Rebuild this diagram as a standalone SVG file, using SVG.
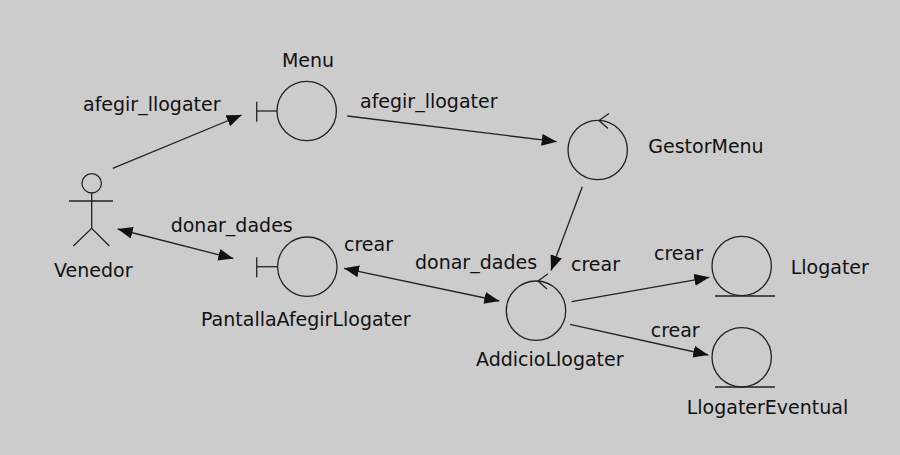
<svg xmlns="http://www.w3.org/2000/svg" width="900" height="455" viewBox="0 0 900 455">
  <defs>
    <marker id="arrow" markerUnits="userSpaceOnUse" markerWidth="16" markerHeight="13" refX="15" refY="6" orient="auto-start-reverse">
      <path d="M0,0 L15,6 L0,12 Z" fill="#111"/>
    </marker>
  </defs>
  <style>
    text { font-family: "DejaVu Sans", "Liberation Sans", sans-serif; font-size: 19px; fill: #111; }
    .shape { fill: none; stroke: #222; stroke-width: 1.3; }
    .conn { fill: none; stroke: #222; stroke-width: 1.3; }
  </style>
  <rect x="0" y="0" width="900" height="455" fill="#cccccc"/>

  <!-- actor -->
  <g id="venedor">
    <circle class="shape" cx="91.7" cy="183.3" r="9.7"/>
    <line class="shape" x1="69" y1="201" x2="113" y2="201"/>
    <line class="shape" x1="91.7" y1="193" x2="91.7" y2="228.3"/>
    <polyline class="shape" points="73.3,246 91.7,228.3 109.3,246"/>
    <text x="54" y="277.3">Venedor</text>
  </g>

  <!-- boundary: Menu -->
  <g id="menu">
    <circle class="shape" cx="306.7" cy="111" r="29.7"/>
    <line class="shape" x1="256.7" y1="101.7" x2="256.7" y2="121.7"/>
    <line class="shape" x1="256.7" y1="111" x2="277" y2="111"/>
    <text x="308" y="67" text-anchor="middle">Menu</text>
  </g>

  <!-- control: GestorMenu -->
  <g id="gestormenu">
    <circle class="shape" cx="597.7" cy="150" r="29.7"/>
    <polyline class="shape" points="609,113.5 599,120.5 608,128.5"/>
    <text x="648.3" y="153.3">GestorMenu</text>
  </g>

  <!-- boundary: PantallaAfegirLlogater -->
  <g id="pantalla">
    <circle class="shape" cx="307.3" cy="266.7" r="29.7"/>
    <line class="shape" x1="256.7" y1="257.3" x2="256.7" y2="277.3"/>
    <line class="shape" x1="256.7" y1="266.7" x2="277.6" y2="266.7"/>
    <text x="201" y="326">PantallaAfegirLlogater</text>
  </g>

  <!-- control: AddicioLlogater -->
  <g id="addicio">
    <circle class="shape" cx="536" cy="310.7" r="29.7"/>
    <polyline class="shape" points="548,273.8 538,281 547,289"/>
    <text x="476" y="365.7">AddicioLlogater</text>
  </g>

  <!-- entity: Llogater -->
  <g id="llogater">
    <circle class="shape" cx="741.7" cy="266" r="29.7"/>
    <line class="shape" x1="715" y1="296" x2="775" y2="296"/>
    <text x="790.7" y="274">Llogater</text>
  </g>

  <!-- entity: LlogaterEventual -->
  <g id="llogatereventual">
    <circle class="shape" cx="741.7" cy="357.3" r="29.7"/>
    <line class="shape" x1="715" y1="387" x2="775" y2="387"/>
    <text x="686.7" y="414">LlogaterEventual</text>
  </g>

  <!-- connectors -->
  <g id="connectors">
    <line class="conn" x1="112.7" y1="168.3" x2="241.7" y2="115" marker-end="url(#arrow)"/>
    <line class="conn" x1="347.3" y1="116" x2="556.7" y2="141.7" marker-end="url(#arrow)"/>
    <line class="conn" x1="582.3" y1="186.7" x2="551" y2="270.5" marker-end="url(#arrow)"/>
    <line class="conn" x1="117.7" y1="229" x2="233.3" y2="258.5" marker-start="url(#arrow)" marker-end="url(#arrow)"/>
    <line class="conn" x1="344" y1="268.3" x2="499.3" y2="301" marker-start="url(#arrow)" marker-end="url(#arrow)"/>
    <line class="conn" x1="571.7" y1="301.7" x2="709.3" y2="277.3" marker-end="url(#arrow)"/>
    <line class="conn" x1="570" y1="324.3" x2="708.3" y2="355" marker-end="url(#arrow)"/>

    <text x="83" y="111">afegir_llogater</text>
    <text x="360" y="108.3">afegir_llogater</text>
    <text x="170.7" y="232.3">donar_dades</text>
    <text x="344" y="250.7">crear</text>
    <text x="415" y="269.3">donar_dades</text>
    <text x="571" y="270.7">crear</text>
    <text x="654" y="260">crear</text>
    <text x="650.7" y="336.7">crear</text>
  </g>
</svg>
